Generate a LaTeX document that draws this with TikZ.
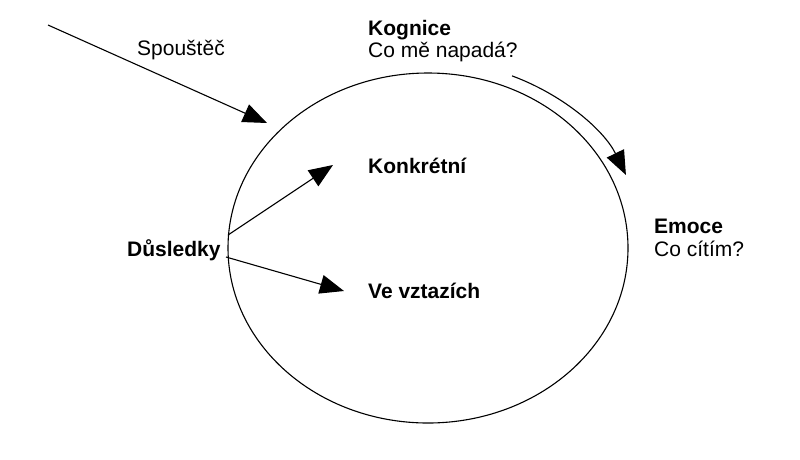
\documentclass[tikz,border=0pt]{standalone}
\usepackage{fontspec}
\setmainfont{Liberation Sans}
\usetikzlibrary{arrows.meta,shapes.geometric}
\begin{document}
\begin{tikzpicture}[x=1pt,y=-1pt,
  lbl/.style={anchor=base west,inner sep=0pt,font=\fontsize{21}{23}\selectfont},
  blbl/.style={lbl,font=\fontsize{21}{23}\selectfont\bfseries},
  arr/.style={line width=1.1pt,-{Triangle[length=24pt,width=19pt]}}]
\useasboundingbox (0,0) rectangle (800,459);
\node[draw,ellipse,line width=1.1pt,minimum width=400pt,minimum height=350pt,inner sep=0pt] (circ) at (428,248) {};
\node[blbl] (kog) at (368,35) {Kognice};
\node[lbl] (kogq) at (368,57) {Co mě napadá?};
\node[lbl] (spo) at (137,55) {Spouštěč};
\node[blbl] (konk) at (368,173) {Konkrétní};
\node[blbl] (emo) at (654,233) {Emoce};
\node[lbl] (emoq) at (654,256) {Co cítím?};
\node[blbl] (dus) at (127,256) {Důsledky};
\node[blbl] (vztah) at (368,298) {Ve vztazích};
\coordinate (s0) at (48,25);
\coordinate (s1) at (267,123);
\coordinate (d0) at (228,235);
\coordinate (d1) at (333,165);
\coordinate (e0) at (226,257);
\coordinate (e1) at (344,291);
\coordinate (c) at (428,248);
\draw[arr] (s0) -- (s1);
\draw[arr] (d0) -- (d1);
\draw[arr] (e0) -- (e1);
\draw[arr] (c) ++(-67:215 and 187) arc[start angle=-67,end angle=-23,x radius=215,y radius=187];
\end{tikzpicture}
\end{document}
